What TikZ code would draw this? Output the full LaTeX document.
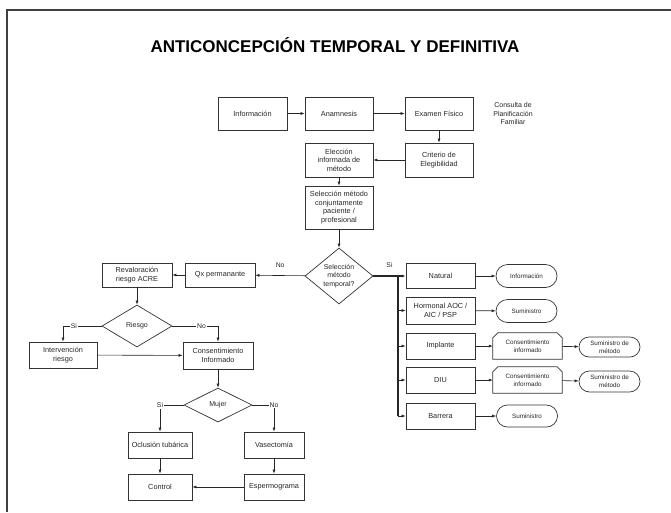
\documentclass[tikz,border=0pt]{standalone}
\usepackage{fontspec}
\setmainfont{Liberation Sans}
\usetikzlibrary{shapes.geometric,shapes.misc,arrows.meta,calc}
\begin{document}
\begin{tikzpicture}[x=1pt,y=-1pt,
  bord/.style={draw=black!80, line width=0.7pt},
  box/.style={bord, rectangle, align=center, inner sep=1pt, text=black!85,
    font=\fontsize{7.3}{8.6}\selectfont},
  bx/.style 2 args={box, minimum width=#1, minimum height=#2},
  ov/.style 2 args={bord, rounded rectangle, align=center, inner sep=1pt, text=black!85,
    font=\fontsize{6.3}{7.6}\selectfont, minimum width=#1, minimum height=#2},
  chb/.style={rectangle, align=center, inner sep=1pt, text=black!85,
    font=\fontsize{6.3}{7.6}\selectfont, minimum width=69pt, minimum height=26pt},
  dia/.style={bord, diamond, inner sep=0pt, align=center, text=black!85,
    font=\fontsize{7}{8.4}\selectfont},
  arr/.style={-{Latex[length=4pt,width=3pt]}, line width=0.6pt, draw=black!85},
  lbl/.style={font=\fontsize{6.8}{8}\selectfont, text=black!85, inner sep=1pt},
  lblw/.style={lbl, fill=white}
]
\useasboundingbox (0,0) rectangle (671,512);
\draw[line width=1.2pt, black!75] (7,512) -- (7,10) -- (671,10);

\node[font=\bfseries\fontsize{17}{20}\selectfont] (title) at (335,45) {ANTICONCEPCIÓN TEMPORAL Y DEFINITIVA};

% top flow
\node[bx={69pt}{33pt}] (info) at (252.5,113.5) {Información};
\node[bx={68pt}{33pt}] (anam) at (339,113.5) {Anamnesis};
\node[bx={68pt}{33pt}] (exam) at (439,113.5) {Examen Físico};
\node[align=center, text=black!85, font=\fontsize{7}{8.6}\selectfont] (consulta) at (513,113.5) {Consulta de\\Planificación\\Familiar};
\node[bx={68pt}{34pt}] (crit) at (439,160) {Criterio de\\Elegibilidad};
\node[bx={68pt}{34pt}] (elec) at (339,160) {Elección\\informada de\\método};
\node[bx={68pt}{43pt}] (selc) at (339,207.5) {Selección método\\conjuntamente\\paciente /\\profesional};
\node[dia, minimum width=68pt, minimum height=56pt, aspect=1.2] (temp) at (339,276) {Selección\\método\\temporal?};

% left branch
\node[bx={70pt}{24pt}] (qx) at (220,275) {Qx permanante};
\node[bx={70pt}{24pt}] (reval) at (137,275) {Revaloración\\riesgo ACRE};
\node[dia, minimum width=70pt, minimum height=42pt, aspect=1.67] (riesgo) at (137,326) {Riesgo};
\node[bx={68pt}{26pt}] (interv) at (63,355) {Intervención\\riesgo};
\node[bx={70pt}{27pt}] (cons) at (218,355.5) {Consentimiento\\Informado};
\node[dia, minimum width=68pt, minimum height=34pt, aspect=2] (mujer) at (218,405) {Mujer};
\node[bx={64pt}{26pt}] (oclu) at (160,445) {Oclusión tubárica};
\node[bx={60pt}{26pt}] (vase) at (274,445) {Vasectomía};
\node[bx={64pt}{26pt}] (ctrl) at (160,487) {Control};
\node[bx={60pt}{26pt}] (esper) at (274,487) {Espermograma};

% right branch
\node[bx={69pt}{25pt}] (nat) at (440.5,276) {Natural};
\node[ov={63pt}{23pt}] (o1) at (526.5,276) {Información};
\node[bx={69pt}{27pt}] (horm) at (440.5,310.5) {Hormonal AOC /\\AIC / PSP};
\node[ov={63pt}{23pt}] (o2) at (526.5,311) {Suministro};
\node[bx={69pt}{26pt}] (impl) at (440.5,346) {Implante};
\node[chb] (c1) at (527.5,346) {Consentimiento\\informado};
\node[ov={63pt}{20pt}] (s1) at (609.5,347) {Suministro de\\método};
\node[bx={69pt}{26pt}] (diu) at (440.5,380) {DIU};
\node[chb] (c2) at (527.5,380) {Consentimiento\\informado};
\node[ov={63pt}{21pt}] (s2) at (609.5,381.5) {Suministro de\\método};
\node[bx={69pt}{26pt}] (barr) at (440.5,416) {Barrera};
\node[ov={63pt}{22pt}] (o3) at (527,416) {Suministro};

\foreach \n in {c1,c2}
  \draw[bord] (\n.south west) -- ($(\n.north west)+(0,5)$) -- ($(\n.north west)+(5,0)$)
    -- ($(\n.north east)+(-5,0)$) -- ($(\n.north east)+(0,5)$) -- (\n.south east) -- cycle;

% connectors top
\draw[arr] (info) -- (anam);
\draw[arr] (anam) -- (exam);
\draw[arr] (exam) -- (crit);
\draw[arr] (crit) -- (elec);
\draw[arr] (elec) -- (selc);
\draw[arr] (selc) -- (temp);
\draw[arr] (temp) -- node[lbl, above=7pt] {No} (qx);
\draw[arr] (qx) -- (reval);
\draw[arr] (reval) -- (riesgo);
\draw[arr] (riesgo.west) -| node[lblw, pos=0.36] {Si} (interv.north);
\draw[arr] (riesgo.east) -| node[lblw, pos=0.32] {No} (cons.north);
\draw[arr] (interv) -- (cons);
\draw[arr] (cons) -- (mujer);
\draw[arr] (mujer.west) -| node[lblw, pos=0.5] {Si} (oclu.north);
\draw[arr] (mujer.east) -| node[lblw, pos=0.5] {No} (vase.north);
\draw[arr] (oclu) -- (ctrl);
\draw[arr] (vase) -- (esper);
\draw[arr] (esper) -- (ctrl);

% right bus
\coordinate (bus) at (398,276);
\draw[arr, line width=1.3pt, -{Latex[length=4pt,width=3pt]}] (temp.east) -- node[lbl, above=7pt] {Si} (nat.west);
\draw[line width=1.1pt, black!85] (bus) -- (bus |- barr.west);
\foreach \n in {horm,impl,diu,barr}
  \draw[arr] (bus |- \n.west) -- (\n.west);
\draw[arr] (nat) -- (o1);
\draw[arr] (horm) -- (o2);
\draw[arr] (impl) -- (c1);
\draw[arr] (c1) -- (s1);
\draw[arr] (diu) -- (c2);
\draw[arr] (c2) -- (s2);
\draw[arr] (barr) -- (o3);
\end{tikzpicture}
\end{document}
